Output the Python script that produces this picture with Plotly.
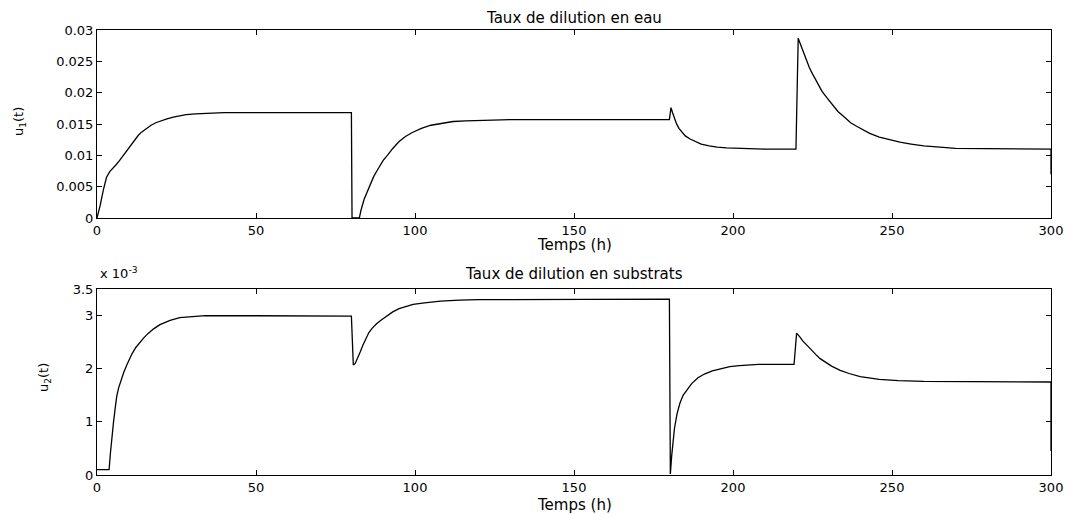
import plotly.graph_objects as go
from plotly.subplots import make_subplots

# Top: water dilution rate u1(t)
t1 = [0, 1, 2, 3, 4, 5, 6, 7, 8, 9, 10, 11, 12, 13, 14, 15.5, 17, 18.5, 20, 22, 24, 26, 28, 31, 34, 40, 80,
      80.2, 82.5, 83, 84, 85, 86, 87, 88, 89, 90, 91.5, 93, 95, 97, 99, 102, 105, 108, 112, 116, 122, 130, 180,
      180.5, 181, 181.5, 182.2, 183, 184, 185, 186.5, 188, 190, 192.5, 195, 198, 202, 210, 219.8,
      220.5, 221, 222, 223, 224, 225, 226.5, 228, 229.5, 231.4, 233, 235, 237, 239, 241, 243, 246,
      249, 252.5, 256, 260, 265, 270, 300, 300]
u1 = [0, 0.002, 0.0045, 0.0065, 0.0074, 0.0079, 0.0085, 0.0091, 0.0098, 0.0105, 0.0112, 0.0119, 0.0126,
      0.0132, 0.0137, 0.0143, 0.0148, 0.0152, 0.0155, 0.0158, 0.0161, 0.0163, 0.0165, 0.0166, 0.0167,
      0.0168, 0.0168,
      0.0, 0.0, 0.0012, 0.003, 0.0043, 0.0055, 0.0066, 0.0075, 0.0084, 0.0092, 0.0101, 0.0111, 0.0122,
      0.0130, 0.0136, 0.0143, 0.0148, 0.0151, 0.0154, 0.0155, 0.0156, 0.0157, 0.0157,
      0.0176, 0.0168, 0.0160, 0.0151, 0.0143, 0.0136, 0.0131, 0.0126, 0.0122, 0.0118, 0.0115, 0.0113,
      0.0112, 0.0111, 0.011, 0.011,
      0.0287, 0.0280, 0.0266, 0.0253, 0.0240, 0.0230, 0.0216, 0.0202, 0.0192, 0.0179, 0.0170, 0.0161,
      0.0152, 0.0146, 0.0140, 0.0135, 0.0129, 0.0125, 0.0121, 0.0118, 0.0115, 0.0113, 0.0111, 0.0110,
      0.007]

# Bottom: substrate dilution rate u2(t), in units of 1e-3
t2 = [0, 3.8, 4.2, 4.6, 5.2, 5.7, 6.2, 6.8, 7.5, 8.4, 9.3, 10.2, 11, 12.2, 13.5, 14.7, 16, 17.8, 19.8,
      21.5, 23, 26, 29, 34, 80,
      80.3, 80.6, 81.2, 82, 82.8, 83.6, 84.5, 85.5, 86.5, 88, 89.5, 91, 93, 95, 97, 99.4, 103, 108, 114,
      120, 180,
      180.3, 180.7, 181.1, 181.6, 182.4, 183.3, 184.3, 185.5, 187, 189, 191, 193.5, 196, 199, 202, 208,
      219.2,
      220, 221, 222, 223.3, 224.5, 226, 227.4, 229, 231, 233.7, 236.5, 240, 243, 246, 252, 260, 300, 300]
u2 = [0.1, 0.1, 0.4, 0.7, 1.0, 1.25, 1.48, 1.64, 1.78, 1.93, 2.06, 2.18, 2.28, 2.40, 2.5, 2.58, 2.66,
      2.75, 2.83, 2.88, 2.91, 2.96, 2.98, 3.0, 2.99,
      2.3, 2.07, 2.1, 2.2, 2.32, 2.44, 2.57, 2.68, 2.76, 2.85, 2.92, 2.99, 3.07, 3.13, 3.17, 3.21, 3.24,
      3.27, 3.29, 3.30, 3.31,
      0.02, 0.35, 0.62, 0.88, 1.15, 1.35, 1.5, 1.6, 1.72, 1.83, 1.9, 1.96, 2.0, 2.04, 2.06, 2.08, 2.08,
      2.67, 2.6, 2.52, 2.44, 2.36, 2.27, 2.19, 2.12, 2.05, 1.97, 1.91, 1.85, 1.82, 1.80, 1.775, 1.76,
      1.75, 0.45]

x_ticks = [0, 50, 100, 150, 200, 250, 300]
y1_ticks = [0, 0.005, 0.01, 0.015, 0.02, 0.025, 0.03]
y1_text = ["0", "0.005", "0.01", "0.015", "0.02", "0.025", "0.03"]
y2_ticks = [0, 1, 2, 3, 3.5]
y2_text = ["0", "1", "2", "3", "3.5"]

FONT = "DejaVu Sans, Arial, sans-serif"
TXT = dict(family=FONT, size=15, color="black")

fig = make_subplots(rows=2, cols=1)
fig.add_trace(go.Scatter(x=t1, y=u1, mode="lines", line=dict(color="black", width=1.3),
                         showlegend=False), row=1, col=1)
fig.add_trace(go.Scatter(x=t2, y=u2, mode="lines", line=dict(color="black", width=1.3),
                         showlegend=False), row=2, col=1)

axis_common = dict(showline=True, linecolor="black", linewidth=1, mirror="ticks",
                   ticks="inside", ticklen=5, tickcolor="black", showgrid=False,
                   zeroline=False, automargin=False,
                   tickfont=dict(family=FONT, size=13, color="black"))

fig.update_xaxes(range=[0, 300], tickvals=x_ticks, **axis_common)
fig.update_yaxes(range=[0, 0.03], tickvals=y1_ticks, ticktext=y1_text, row=1, col=1, **axis_common)
fig.update_yaxes(range=[0, 3.5], tickvals=y2_ticks, ticktext=y2_text, row=2, col=1, **axis_common)

top_lo = (475 - 218) / 445
bot_hi = (475 - 289) / 445
fig.update_layout(
    width=1075, height=514,
    margin=dict(l=97, r=24, t=30, b=39),
    plot_bgcolor="white", paper_bgcolor="white",
    xaxis=dict(domain=[0, 1]), yaxis=dict(domain=[top_lo, 1.0]),
    xaxis2=dict(domain=[0, 1]), yaxis2=dict(domain=[0.0, bot_hi]),
)

def px_x(px):
    return (px - 97) / 954

def px_y(py):
    return (475 - py) / 445

fig.add_annotation(text="Taux de dilution en eau", x=0.5, y=px_y(18), xref="paper", yref="paper",
                   yanchor="middle", showarrow=False, font=TXT)
fig.add_annotation(text="Taux de dilution en substrats", x=0.5, y=px_y(274), xref="paper", yref="paper",
                   yanchor="middle", showarrow=False, font=TXT)
fig.add_annotation(text="Temps (h)", x=0.5, y=px_y(245), xref="paper", yref="paper",
                   yanchor="middle", showarrow=False, font=TXT)
fig.add_annotation(text="Temps (h)", x=0.5, y=px_y(505), xref="paper", yref="paper",
                   yanchor="middle", showarrow=False, font=TXT)
fig.add_annotation(text="x 10<sup>-3</sup>", x=px_x(98), y=px_y(273), xref="paper", yref="paper",
                   xanchor="left", yanchor="middle", showarrow=False,
                   font=dict(family=FONT, size=13, color="black"))
fig.add_annotation(text="u<sub>1</sub>(t)", x=px_x(19), y=px_y(122), xref="paper", yref="paper",
                   xanchor="center", yanchor="middle", textangle=-90, showarrow=False,
                   font=dict(family=FONT, size=13, color="black"))
fig.add_annotation(text="u<sub>2</sub>(t)", x=px_x(44), y=px_y(378), xref="paper", yref="paper",
                   xanchor="center", yanchor="middle", textangle=-90, showarrow=False,
                   font=dict(family=FONT, size=13, color="black"))

fig.write_html("out.html", config={"displayModeBar": False},
               post_script="document.body.style.margin='0';document.body.style.overflow='hidden';")
